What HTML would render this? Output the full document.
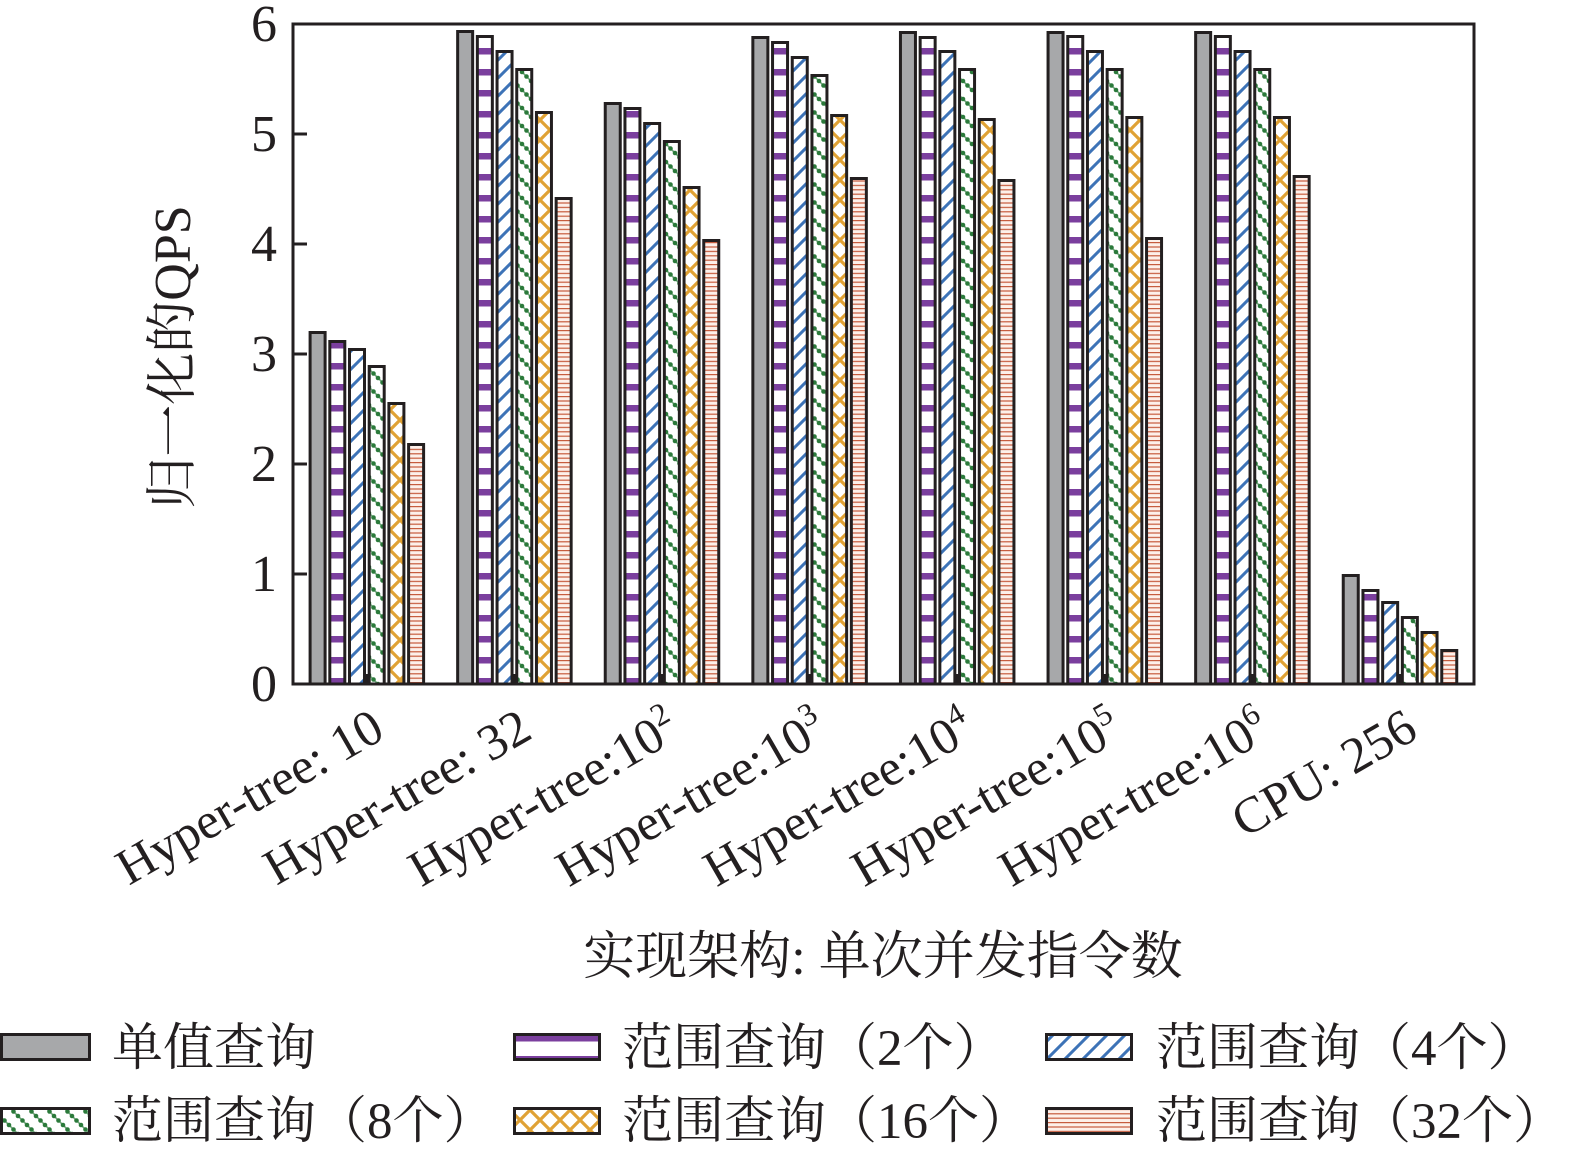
<!DOCTYPE html>
<html>
<head>
<meta charset="utf-8">
<style>
  html, body { margin: 0; padding: 0; background: #ffffff; }
  svg { display: block; }
  .t { font-family: "Liberation Serif", "Noto Serif CJK SC", serif; fill: #231f20; }
</style>
</head>
<body>
<svg width="1575" height="1153" viewBox="0 0 1575 1153" xmlns="http://www.w3.org/2000/svg">
  <defs>
    <pattern id="pu" patternUnits="userSpaceOnUse" x="0" y="6" width="10" height="21">
      <rect width="10" height="21" fill="#ffffff"/>
      <rect width="10" height="6.5" fill="#7b3f9e"/>
    </pattern>
    <pattern id="bl" patternUnits="userSpaceOnUse" width="18" height="18">
      <rect width="18" height="18" fill="#ffffff"/>
      <path d="M-2,20 L20,-2 M-2,2 L2,-2 M16,20 L20,16" stroke="#3d73b7" stroke-width="3" fill="none"/>
    </pattern>
    <pattern id="gr" patternUnits="userSpaceOnUse" width="18" height="18">
      <rect width="18" height="18" fill="#ffffff"/>
      <path d="M-2,-2 L20,20" stroke="#2b7a3b" stroke-width="1.6" opacity="0.7"/>
      <g fill="#2b7a3b">
        <circle cx="0" cy="0" r="2.3"/><circle cx="18" cy="0" r="2.3"/>
        <circle cx="0" cy="18" r="2.3"/><circle cx="18" cy="18" r="2.3"/>
        <circle cx="4.5" cy="4.5" r="2.3"/><circle cx="9" cy="9" r="2.3"/>
        <circle cx="13.5" cy="13.5" r="2.3"/>
      </g>
    </pattern>
    <pattern id="or" patternUnits="userSpaceOnUse" width="20" height="20">
      <rect width="20" height="20" fill="#ffffff"/>
      <path d="M-2,-2 L22,22 M22,-2 L-2,22" stroke="#e0a235" stroke-width="3.2" fill="none"/>
    </pattern>
    <pattern id="rd" patternUnits="userSpaceOnUse" width="10" height="4.4">
      <rect width="10" height="4.4" fill="#fdf0ea"/>
      <rect width="10" height="1.2" fill="#c65a3c"/>
    </pattern>
  </defs>

  <!-- y ticks -->
  <g stroke="#231f20" stroke-width="3">
    <line x1="293" y1="574" x2="307" y2="574"/>
    <line x1="293" y1="464" x2="307" y2="464"/>
    <line x1="293" y1="354" x2="307" y2="354"/>
    <line x1="293" y1="244" x2="307" y2="244"/>
    <line x1="293" y1="134" x2="307" y2="134"/>
    <!-- x ticks -->
    <line x1="366.8" y1="684" x2="366.8" y2="674"/>
    <line x1="514.4" y1="684" x2="514.4" y2="674"/>
    <line x1="662" y1="684" x2="662" y2="674"/>
    <line x1="809.6" y1="684" x2="809.6" y2="674"/>
    <line x1="957.2" y1="684" x2="957.2" y2="674"/>
    <line x1="1104.8" y1="684" x2="1104.8" y2="674"/>
    <line x1="1252.4" y1="684" x2="1252.4" y2="674"/>
    <line x1="1400" y1="684" x2="1400" y2="674"/>
  </g>

  <!-- bars -->
  <g stroke="#231f20" stroke-width="3">
    <!-- group 1 -->
    <rect x="310.1" y="332.5" width="15" height="351.5" fill="#a7a8aa"/>
    <rect x="329.8" y="341.5" width="15" height="342.5" fill="url(#pu)"/>
    <rect x="349.5" y="349.5" width="15" height="334.5" fill="url(#bl)"/>
    <rect x="369.2" y="366.5" width="15" height="317.5" fill="url(#gr)"/>
    <rect x="388.9" y="403.5" width="15" height="280.5" fill="url(#or)"/>
    <rect x="408.6" y="444.5" width="15" height="239.5" fill="url(#rd)"/>
    <!-- group 2 -->
    <rect x="457.65" y="31.5" width="15" height="652.5" fill="#a7a8aa"/>
    <rect x="477.35" y="36.5" width="15" height="647.5" fill="url(#pu)"/>
    <rect x="497.05" y="51.5" width="15" height="632.5" fill="url(#bl)"/>
    <rect x="516.75" y="69.5" width="15" height="614.5" fill="url(#gr)"/>
    <rect x="536.45" y="112.5" width="15" height="571.5" fill="url(#or)"/>
    <rect x="556.15" y="198.5" width="15" height="485.5" fill="url(#rd)"/>
    <!-- group 3 -->
    <rect x="605.25" y="103.5" width="15" height="580.5" fill="#a7a8aa"/>
    <rect x="624.95" y="108.5" width="15" height="575.5" fill="url(#pu)"/>
    <rect x="644.65" y="123.5" width="15" height="560.5" fill="url(#bl)"/>
    <rect x="664.35" y="141.5" width="15" height="542.5" fill="url(#gr)"/>
    <rect x="684.05" y="187.5" width="15" height="496.5" fill="url(#or)"/>
    <rect x="703.75" y="240.5" width="15" height="443.5" fill="url(#rd)"/>
    <!-- group 4 -->
    <rect x="752.85" y="37.5" width="15" height="646.5" fill="#a7a8aa"/>
    <rect x="772.55" y="42.5" width="15" height="641.5" fill="url(#pu)"/>
    <rect x="792.25" y="57.5" width="15" height="626.5" fill="url(#bl)"/>
    <rect x="811.95" y="75.5" width="15" height="608.5" fill="url(#gr)"/>
    <rect x="831.65" y="115.5" width="15" height="568.5" fill="url(#or)"/>
    <rect x="851.35" y="178.5" width="15" height="505.5" fill="url(#rd)"/>
    <!-- group 5 -->
    <rect x="900.45" y="32.5" width="15" height="651.5" fill="#a7a8aa"/>
    <rect x="920.15" y="37.5" width="15" height="646.5" fill="url(#pu)"/>
    <rect x="939.85" y="51.5" width="15" height="632.5" fill="url(#bl)"/>
    <rect x="959.55" y="69.5" width="15" height="614.5" fill="url(#gr)"/>
    <rect x="979.25" y="119.5" width="15" height="564.5" fill="url(#or)"/>
    <rect x="998.95" y="180.5" width="15" height="503.5" fill="url(#rd)"/>
    <!-- group 6 -->
    <rect x="1048.05" y="32.5" width="15" height="651.5" fill="#a7a8aa"/>
    <rect x="1067.75" y="36.5" width="15" height="647.5" fill="url(#pu)"/>
    <rect x="1087.45" y="51.5" width="15" height="632.5" fill="url(#bl)"/>
    <rect x="1107.15" y="69.5" width="15" height="614.5" fill="url(#gr)"/>
    <rect x="1126.85" y="117.5" width="15" height="566.5" fill="url(#or)"/>
    <rect x="1146.55" y="238.5" width="15" height="445.5" fill="url(#rd)"/>
    <!-- group 7 -->
    <rect x="1195.65" y="32.5" width="15" height="651.5" fill="#a7a8aa"/>
    <rect x="1215.35" y="36.5" width="15" height="647.5" fill="url(#pu)"/>
    <rect x="1235.05" y="51.5" width="15" height="632.5" fill="url(#bl)"/>
    <rect x="1254.75" y="69.5" width="15" height="614.5" fill="url(#gr)"/>
    <rect x="1274.45" y="117.5" width="15" height="566.5" fill="url(#or)"/>
    <rect x="1294.15" y="176.5" width="15" height="507.5" fill="url(#rd)"/>
    <!-- group 8 -->
    <rect x="1343.25" y="575.5" width="15" height="108.5" fill="#a7a8aa"/>
    <rect x="1362.95" y="590.5" width="15" height="93.5" fill="url(#pu)"/>
    <rect x="1382.65" y="602.5" width="15" height="81.5" fill="url(#bl)"/>
    <rect x="1402.35" y="617.5" width="15" height="66.5" fill="url(#gr)"/>
    <rect x="1422.05" y="632.5" width="15" height="51.5" fill="url(#or)"/>
    <rect x="1441.75" y="650.5" width="15" height="33.5" fill="url(#rd)"/>
  </g>

  <!-- axes box -->
  <rect x="293" y="24" width="1181" height="660" fill="none" stroke="#231f20" stroke-width="3"/>

  <!-- y tick labels -->
  <g class="t" font-size="52" text-anchor="end">
    <text x="277" y="41">6</text>
    <text x="277" y="151">5</text>
    <text x="277" y="261">4</text>
    <text x="277" y="371">3</text>
    <text x="277" y="481">2</text>
    <text x="277" y="591">1</text>
    <text x="277" y="701">0</text>
  </g>

  <!-- y axis label -->
  <text class="t" font-size="52" text-anchor="middle" x="190" y="357" transform="rotate(-90 190 357)">归一化的QPS</text>

  <!-- x tick labels -->
  <g class="t" font-size="51" text-anchor="end">
    <text x="386.8" y="737" transform="rotate(-30 386.8 737)">Hyper-tree: 10</text>
    <text x="534.4" y="737" transform="rotate(-30 534.4 737)">Hyper-tree: 32</text>
    <text x="682" y="737" transform="rotate(-30 682 737)">Hyper-tree:10<tspan dy="-20" font-size="32">2</tspan></text>
    <text x="829.6" y="737" transform="rotate(-30 829.6 737)">Hyper-tree:10<tspan dy="-20" font-size="32">3</tspan></text>
    <text x="977.2" y="737" transform="rotate(-30 977.2 737)">Hyper-tree:10<tspan dy="-20" font-size="32">4</tspan></text>
    <text x="1124.8" y="737" transform="rotate(-30 1124.8 737)">Hyper-tree:10<tspan dy="-20" font-size="32">5</tspan></text>
    <text x="1272.4" y="737" transform="rotate(-30 1272.4 737)">Hyper-tree:10<tspan dy="-20" font-size="32">6</tspan></text>
    <text x="1420" y="737" transform="rotate(-30 1420 737)">CPU: 256</text>
  </g>

  <!-- x axis title -->
  <text class="t" font-size="52" text-anchor="middle" x="883" y="974">实现架构: 单次并发指令数</text>

  <!-- legend -->
  <g stroke="#231f20" stroke-width="3">
    <rect x="1.5" y="1034.5" width="88" height="25" fill="#a7a8aa"/>
    <rect x="514.5" y="1034.5" width="85" height="25" fill="url(#pu)"/>
    <rect x="1046.5" y="1034.5" width="85" height="25" fill="url(#bl)"/>
    <rect x="1.5" y="1108.5" width="88" height="25" fill="url(#gr)"/>
    <rect x="514.5" y="1108.5" width="85" height="25" fill="url(#or)"/>
    <rect x="1046.5" y="1108.5" width="85" height="25" fill="url(#rd)"/>
  </g>
  <g class="t" font-size="51">
    <text x="112" y="1065">单值查询</text>
    <text x="622" y="1065">范围查询（2个）</text>
    <text x="1156" y="1065">范围查询（4个）</text>
    <text x="112" y="1138">范围查询（8个）</text>
    <text x="622" y="1138">范围查询（16个）</text>
    <text x="1156" y="1138">范围查询（32个）</text>
  </g>
</svg>
</body>
</html>
